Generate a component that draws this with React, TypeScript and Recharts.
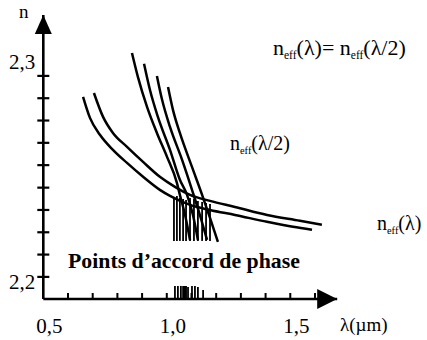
import React from "react";
import { LineChart, Line, XAxis, YAxis, ReferenceLine, ReferenceDot } from "recharts";

type Pt = { x: number; y: number };

// n_eff(λ): the two flat branches (λ in µm, n)
const NEFF_LAMBDA_LOW: Pt[] = [
  { x: 0.661, y: 2.2896 },
  { x: 0.689, y: 2.2791 },
  { x: 0.73, y: 2.2706 },
  { x: 0.782, y: 2.2632 },
  { x: 0.839, y: 2.2567 },
  { x: 0.904, y: 2.2498 },
  { x: 0.972, y: 2.2433 },
  { x: 1.013, y: 2.2403 },
  { x: 1.094, y: 2.2358 },
  { x: 1.175, y: 2.2333 },
  { x: 1.276, y: 2.2308 },
  { x: 1.406, y: 2.2274 },
  { x: 1.511, y: 2.2249 },
  { x: 1.588, y: 2.2234 },
];

const NEFF_LAMBDA_HIGH: Pt[] = [
  { x: 0.705, y: 2.2915 },
  { x: 0.742, y: 2.2796 },
  { x: 0.782, y: 2.2716 },
  { x: 0.839, y: 2.2647 },
  { x: 0.904, y: 2.2572 },
  { x: 0.972, y: 2.2498 },
  { x: 1.033, y: 2.2448 },
  { x: 1.094, y: 2.2408 },
  { x: 1.175, y: 2.2378 },
  { x: 1.276, y: 2.2348 },
  { x: 1.406, y: 2.2308 },
  { x: 1.539, y: 2.2279 },
  { x: 1.628, y: 2.2259 },
];

// n_eff(λ/2): the four steep branches
const NEFF_HALF_1: Pt[] = [
  { x: 0.859, y: 2.3114 },
  { x: 0.883, y: 2.2995 },
  { x: 0.92, y: 2.2846 },
  { x: 0.96, y: 2.2716 },
  { x: 1.001, y: 2.2597 },
  { x: 1.041, y: 2.2468 },
  { x: 1.053, y: 2.2408 },
  { x: 1.074, y: 2.2308 },
  { x: 1.094, y: 2.2184 },
];

const NEFF_HALF_2: Pt[] = [
  { x: 0.908, y: 2.306 },
  { x: 0.932, y: 2.293 },
  { x: 0.964, y: 2.2796 },
  { x: 1.013, y: 2.2632 },
  { x: 1.053, y: 2.2483 },
  { x: 1.082, y: 2.2408 },
  { x: 1.106, y: 2.2308 },
  { x: 1.126, y: 2.2184 },
];

const NEFF_HALF_3: Pt[] = [
  { x: 0.96, y: 2.3 },
  { x: 0.981, y: 2.2881 },
  { x: 1.013, y: 2.2746 },
  { x: 1.062, y: 2.2582 },
  { x: 1.106, y: 2.2418 },
  { x: 1.134, y: 2.2308 },
  { x: 1.163, y: 2.2184 },
];

const NEFF_HALF_4: Pt[] = [
  { x: 1.005, y: 2.2945 },
  { x: 1.025, y: 2.2831 },
  { x: 1.053, y: 2.2716 },
  { x: 1.102, y: 2.2547 },
  { x: 1.143, y: 2.2408 },
  { x: 1.175, y: 2.2294 },
  { x: 1.207, y: 2.2174 },
];

const CURVES = [NEFF_LAMBDA_LOW, NEFF_LAMBDA_HIGH, NEFF_HALF_1, NEFF_HALF_2, NEFF_HALF_3, NEFF_HALF_4];

// phase matching points: drop lines under the crossings
const MATCH_LAMBDAS = [1.029, 1.041, 1.053, 1.066, 1.078, 1.094, 1.11, 1.126, 1.143, 1.159, 1.175];
const MATCH_TOPS = [2.2398, 2.2403, 2.2393, 2.2388, 2.2383, 2.2393, 2.2388, 2.2378, 2.2373, 2.2368, 2.2363];
const MATCH_BOTTOM = 2.2179;

// small marks on the λ axis
const AXIS_MARKS = [1.033, 1.045, 1.057, 1.066, 1.07, 1.074, 1.078, 1.086, 1.102, 1.114, 1.126, 1.147];
const AXIS_MARK_TOPS = [2.1955, 2.1955, 2.1955, 2.1955, 2.1955, 2.1955, 2.1955, 2.195, 2.1955, 2.1955, 2.195, 2.1935];

const X_DOMAIN: [number, number] = [0.5, 1.69];
const Y_DOMAIN: [number, number] = [2.189, 2.3303];
const X_TICKS = [0.5, 0.6, 0.7, 0.8, 0.9, 1.0, 1.1, 1.2, 1.3, 1.4, 1.5, 1.6];
const Y_TICKS = [2.2, 2.2111, 2.2222, 2.2333, 2.2444, 2.2556, 2.2667, 2.2778, 2.2889, 2.3];
const X_LABELS: Record<string, string> = { "0.5": "0,5", "1": "1,0", "1.5": "1,5" };
const Y_LABELS: Record<string, string> = { "2.2": "2,2", "2.3": "2,3" };

const SERIF = "'Liberation Serif', 'Times New Roman', serif";
const W = 427;
const H = 340;

const XTick = (props: any) => {
  const { x, y, payload } = props;
  const v = payload.value;
  const label = X_LABELS[String(v)];
  return (
    <g>
      {v > X_DOMAIN[0] && <line x1={x} y1={y} x2={x} y2={y - 6} stroke="#000" strokeWidth={2} />}
      {label && (
        <text x={x + 6} y={y + 34} textAnchor="middle" fontSize={21} fontFamily={SERIF} fill="#000">
          {label}
        </text>
      )}
    </g>
  );
};

const YTick = (props: any) => {
  const { x, y, payload } = props;
  const label = Y_LABELS[String(payload.value)];
  const dy = payload.value === 2.3 ? -7 : 12;
  return (
    <g>
      <line x1={x - 6} y1={y} x2={x + 6} y2={y} stroke="#000" strokeWidth={2.2} />
      {label && (
        <text x={x - 8} y={y + dy} textAnchor="end" fontSize={21} fontFamily={SERIF} fill="#000">
          {label}
        </text>
      )}
    </g>
  );
};

const UpArrow = (p: any) => (
  <polygon points={`${p.cx},${p.cy} ${p.cx - 8.5},${p.cy + 19} ${p.cx + 8.5},${p.cy + 19}`} fill="#000" />
);
const RightArrow = (p: any) => (
  <polygon points={`${p.cx},${p.cy} ${p.cx - 20},${p.cy - 10} ${p.cx - 20},${p.cy + 10}`} fill="#000" />
);

const Neff = ({ x, y, arg, size = 21 }: { x: number; y: number; arg: string; size?: number }) => (
  <text x={x} y={y} fontSize={size} fontFamily={SERIF} fill="#000">
    n
    <tspan fontSize={size * 0.52} dy={4}>
      eff
    </tspan>
    <tspan dy={-4}>{arg}</tspan>
  </text>
);

export default function App() {
  return (
    <div style={{ position: "relative", width: W, height: H, background: "#fff" }}>
      <style>{`body{margin:0}`}</style>
      <LineChart width={W} height={H} margin={{ top: 15, right: 89.8, bottom: 1, left: 14.3 }}>
        <XAxis
          type="number"
          dataKey="x"
          domain={X_DOMAIN}
          ticks={X_TICKS}
          interval={0}
          height={40}
          tickSize={0}
          tickMargin={0}
          tickLine={false}
          tick={<XTick />}
          axisLine={{ stroke: "#000", strokeWidth: 2.6 }}
        />
        <YAxis
          type="number"
          dataKey="y"
          domain={Y_DOMAIN}
          ticks={Y_TICKS}
          interval={0}
          width={29}
          tickSize={0}
          tickMargin={0}
          tickLine={false}
          tick={<YTick />}
          axisLine={{ stroke: "#000", strokeWidth: 2.6 }}
        />
        {CURVES.map((d, i) => (
          <Line
            key={i}
            data={d}
            dataKey="y"
            type="monotone"
            stroke="#000"
            strokeWidth={2.5}
            dot={false}
            activeDot={false}
            isAnimationActive={false}
          />
        ))}
        {MATCH_LAMBDAS.map((l, i) => (
          <ReferenceLine
            key={`m${i}`}
            segment={[
              { x: l, y: MATCH_TOPS[i] },
              { x: l, y: MATCH_BOTTOM },
            ]}
            stroke="#000"
            strokeWidth={1.8}
          />
        ))}
        {AXIS_MARKS.map((l, i) => (
          <ReferenceLine
            key={`a${i}`}
            segment={[
              { x: l, y: AXIS_MARK_TOPS[i] },
              { x: l, y: Y_DOMAIN[0] },
            ]}
            stroke="#000"
            strokeWidth={1.8}
          />
        ))}
        <ReferenceDot x={X_DOMAIN[0]} y={Y_DOMAIN[1]} r={0} ifOverflow="visible" shape={UpArrow} />
        <ReferenceDot x={X_DOMAIN[1]} y={Y_DOMAIN[0]} r={0} ifOverflow="visible" shape={RightArrow} />
      </LineChart>
      <svg
        width={W}
        height={H}
        style={{ position: "absolute", left: 0, top: 0, pointerEvents: "none" }}
      >
        <text x={19} y={18} fontSize={19} fontFamily={SERIF} fill="#000">
          n
        </text>
        <text x={340} y={331} fontSize={19} fontFamily={SERIF} fill="#000">
          λ(µm)
        </text>
        <text x={273} y={55} fontSize={22} fontFamily={SERIF} fill="#000">
          n
          <tspan fontSize={11.5} dy={4}>
            eff
          </tspan>
          <tspan dy={-4}>(λ)= n</tspan>
          <tspan fontSize={11.5} dy={4}>
            eff
          </tspan>
          <tspan dy={-4}>(λ/2)</tspan>
        </text>
        <Neff x={230} y={150} arg="(λ/2)" size={20} />
        <Neff x={377} y={230} arg="(λ)" size={20} />
        <text x={68} y={268} fontSize={21.8} fontWeight="bold" fontFamily={SERIF} fill="#000">
          Points d’accord de phase
        </text>
      </svg>
    </div>
  );
}
